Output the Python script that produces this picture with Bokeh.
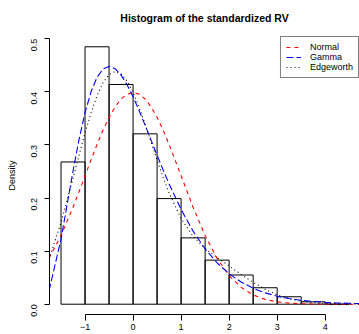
import math
from bokeh.plotting import figure
from bokeh.models import Range1d, FixedTicker, Legend, LegendItem
from bokeh.embed import file_html
from bokeh.resources import INLINE

# ---- data ----
bin_left = [-1.5, -1.0, -0.5, 0.0, 0.5, 1.0, 1.5, 2.0, 2.5, 3.0, 3.5, 4.0]
bin_right = [-1.0, -0.5, 0.0, 0.5, 1.0, 1.5, 2.0, 2.5, 3.0, 3.5, 4.0, 4.5]
bin_density = [0.268, 0.485, 0.414, 0.321, 0.199, 0.125, 0.083, 0.055, 0.031, 0.014, 0.0045, 0.0]

x_grid = [-1.75, -1.5, -1.25, -1.125, -1.0, -0.875, -0.75, -0.625, -0.5, -0.375,
          -0.25, -0.125, 0.0, 0.125, 0.25, 0.375, 0.5, 0.625, 0.75, 1.0,
          1.25, 1.5, 1.75, 2.0, 2.25, 2.5, 2.75, 3.0, 3.25, 3.5,
          3.75, 4.0, 4.25, 4.5, 4.75]
normal_pdf = [0.0863, 0.1295, 0.1826, 0.2119, 0.2420, 0.2720, 0.3011, 0.3282, 0.3521, 0.3718,
              0.3867, 0.3958, 0.3989, 0.3958, 0.3867, 0.3718, 0.3521, 0.3282, 0.3011, 0.2420,
              0.1826, 0.1295, 0.0863, 0.0540, 0.0317, 0.0175, 0.0091, 0.0044, 0.0020, 0.0009,
              0.0004, 0.0001, 0.0, 0.0, 0.0]
gamma_pdf = [0.0253, 0.1226, 0.2510, 0.3105, 0.3609, 0.4002, 0.4275, 0.4432, 0.4481, 0.4437,
             0.4316, 0.4134, 0.3907, 0.3650, 0.3374, 0.3091, 0.2807, 0.2531, 0.2266, 0.1785,
             0.1376, 0.1043, 0.0778, 0.0573, 0.0417, 0.0300, 0.0214, 0.0151, 0.0106, 0.0074,
             0.0051, 0.0035, 0.0024, 0.0017, 0.0011]
edgeworth_pdf = [0.0847, 0.1538, 0.2373, 0.2808, 0.3227, 0.3606, 0.3929, 0.4174, 0.4328, 0.4382,
                 0.4340, 0.4204, 0.3989, 0.3712, 0.3394, 0.3054, 0.2714, 0.2390, 0.2094, 0.1613,
                 0.1279, 0.1052, 0.0879, 0.0720, 0.0562, 0.0412, 0.0281, 0.0177, 0.0103, 0.0056,
                 0.0028, 0.0013, 0.0006, 0.0002, 0.0001]

x_ticks = [-1, 0, 1, 2, 3, 4]
y_ticks = [0.0, 0.1, 0.2, 0.3, 0.4, 0.5]
y_tick_labels = ["0.0", "0.1", "0.2", "0.3", "0.4", "0.5"]
series_names = ["Normal", "Gamma", "Edgeworth"]
title_text = "Histogram of the standardized RV"
y_label = "Density"

FONT = "Liberation Sans"

p = figure(width=359, height=334, output_backend="svg", toolbar_location=None,
           x_range=Range1d(-1.74, 4.714), y_range=Range1d(-0.0194, 0.5044),
           min_border_left=49, min_border_right=0, min_border_top=36, min_border_bottom=20,
           title=title_text)
p.outline_line_color = None
p.grid.visible = False
p.background_fill_color = "white"
p.border_fill_color = "white"

p.title.align = "center"
p.title.vertical_align = "top"
p.title.standoff = 21
p.title.text_font = FONT
p.title.text_font_size = "10.5px"
p.title.text_font_style = "bold"
p.title.text_color = "black"

xa = p.xaxis[0]
xa.ticker = FixedTicker(ticks=x_ticks)
xa.bounds = (x_ticks[0], x_ticks[-1])
xa.minor_tick_line_color = None
xa.major_tick_out = 6
xa.major_tick_in = 0
xa.major_label_standoff = 3
xa.axis_line_color = "black"
xa.major_tick_line_color = "black"
xa.major_label_text_font = FONT
xa.major_label_text_font_size = "9px"
xa.major_label_text_color = "black"

ya = p.yaxis[0]
ya.ticker = FixedTicker(ticks=y_ticks)
ya.bounds = (y_ticks[0], y_ticks[-1])
ya.major_label_overrides = {t: s for t, s in zip(y_ticks, y_tick_labels)}
ya.minor_tick_line_color = None
ya.major_tick_out = 5
ya.major_tick_in = 0
ya.major_label_standoff = 10
ya.major_label_orientation = math.pi / 2
ya.axis_line_color = "black"
ya.major_tick_line_color = "black"
ya.major_label_text_font = FONT
ya.major_label_text_font_size = "9px"
ya.major_label_text_color = "black"
ya.axis_label = y_label
ya.axis_label_text_font = FONT
ya.axis_label_text_font_size = "9px"
ya.axis_label_text_font_style = "normal"
ya.axis_label_text_color = "black"
ya.axis_label_standoff = 9

p.quad(left=bin_left, right=bin_right, bottom=0, top=bin_density,
       fill_color=None, line_color="black", line_width=1)

r_norm = p.line(x_grid, normal_pdf, line_color="#FF0000", line_dash="4 4", line_width=1.1)
r_gam = p.line(x_grid, gamma_pdf, line_color="#0000FF", line_dash="7 3", line_width=1.1)
r_edg = p.line(x_grid, edgeworth_pdf, line_color="black", line_dash="1 3", line_width=1.1)

legend = Legend(items=[LegendItem(label=series_names[0], renderers=[r_norm]),
                       LegendItem(label=series_names[1], renderers=[r_gam]),
                       LegendItem(label=series_names[2], renderers=[r_edg])],
                location="top_right", margin=0, padding=5, spacing=0,
                glyph_width=15, glyph_height=10, label_height=10, label_standoff=9,
                border_line_color="black", border_line_width=1,
                background_fill_color="white", background_fill_alpha=1.0,
                label_text_font=FONT, label_text_font_size="9px", label_text_color="black")
p.add_layout(legend)

open("out.html", "w").write(file_html(p, INLINE))
